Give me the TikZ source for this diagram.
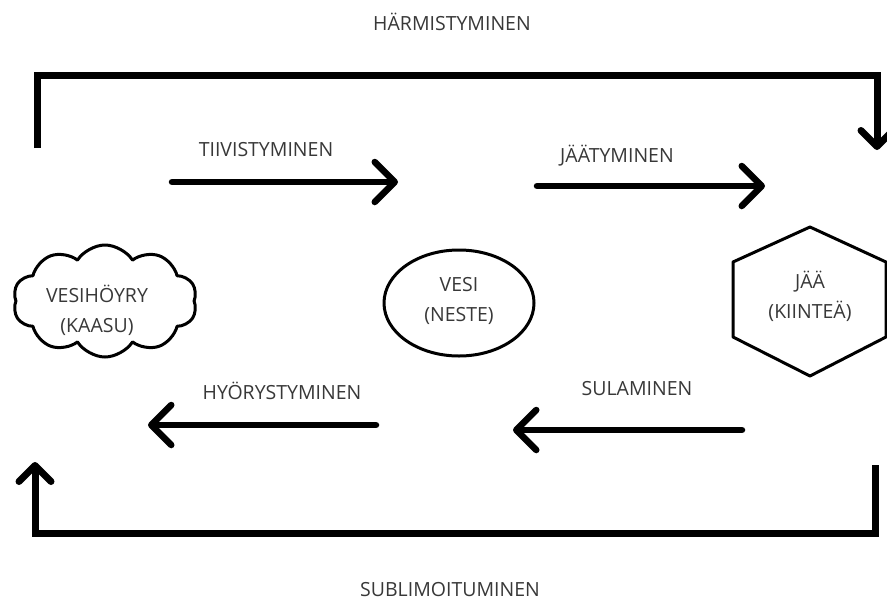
\documentclass[tikz,border=0pt]{standalone}
\usepackage{fontspec}
\setmainfont{Open Sans}
\usetikzlibrary{arrows.meta,shapes.symbols,shapes.geometric}
\tikzset{
  lbl/.style={text=black!78, font=\fontsize{19.5}{24}\selectfont},
  statetext/.style={lbl, align=center, font=\fontsize{19.5}{30}\selectfont},
  flow/.style={line width=6.5pt, line cap=round,
    -{Straight Barb[length=20pt,width=40pt,line cap=round,line join=round]}},
  bracket/.style={line width=7pt, line join=miter},
  bracketarrow/.style={bracket,
    -{Straight Barb[length=16pt,width=32pt,line cap=round,line join=round]}},
  outline/.style={line width=3pt, line join=round},
}
\begin{document}
\begin{tikzpicture}[x=1pt,y=-1pt]
  \useasboundingbox (0,0) rectangle (887,603);
  % states
  \node[outline, draw, cloud, cloud puffs=10, cloud puff arc=115, aspect=1.7,
        minimum width=184pt, minimum height=112pt] (pilvi) at (105,301) {};
  \node[statetext] (hoyry) at (97,310) {VESIHÖYRY\\(KAASU)};
  \node[outline, draw, ellipse, minimum width=150pt, minimum height=106pt] (vesi) at (459,303) {};
  \node[statetext] (neste) at (459,301) {VESI\\(NESTE)};
  \node[statetext] (jaa) at (810,296) {JÄÄ\\(KIINTEÄ)};
  \draw[outline] ([shift={(0,-69)}]jaa.center) -- ([shift={(76,-34)}]jaa.center)
    -- ([shift={(76,41)}]jaa.center) -- ([shift={(0,80)}]jaa.center)
    -- ([shift={(-77,41)}]jaa.center) -- ([shift={(-77,-34)}]jaa.center) -- cycle;
  % phase changes in the middle
  \node[lbl] (tiivlbl) at (266,150) {TIIVISTYMINEN};
  \coordinate (tiivA) at (172,182);
  \coordinate (tiivB) at (398,182);
  \draw[flow] (tiivA) -- (tiivB);
  \node[lbl] (jaatlbl) at (617,156) {JÄÄTYMINEN};
  \coordinate (jaatA) at (537,186);
  \coordinate (jaatB) at (765,186);
  \draw[flow] (jaatA) -- (jaatB);
  \node[lbl] (hoyrlbl) at (282,391) {HYÖRYSTYMINEN};
  \coordinate (hoyrA) at (376,425);
  \coordinate (hoyrB) at (148,425);
  \draw[flow] (hoyrA) -- (hoyrB);
  \node[lbl] (sulalbl) at (637,389) {SULAMINEN};
  \coordinate (sulaA) at (742,430);
  \coordinate (sulaB) at (513,430);
  \draw[flow] (sulaA) -- (sulaB);
  % brackets
  \node[lbl] (harmlbl) at (452,22) {HÄRMISTYMINEN};
  \coordinate (harmA) at (37,148);
  \coordinate (harmL) at (37,75);
  \coordinate (harmR) at (877,75);
  \coordinate (harmB) at (877,150);
  \draw[bracketarrow] (harmA) -- (harmL) -- (harmR) -- (harmB);
  \node[lbl] (sublbl) at (450,590) {SUBLIMOITUMINEN};
  \coordinate (subA) at (875,465);
  \coordinate (subR) at (875,533);
  \coordinate (subL) at (35,533);
  \coordinate (subB) at (35,462);
  \draw[bracketarrow] (subA) -- (subR) -- (subL) -- (subB);
\end{tikzpicture}
\end{document}
